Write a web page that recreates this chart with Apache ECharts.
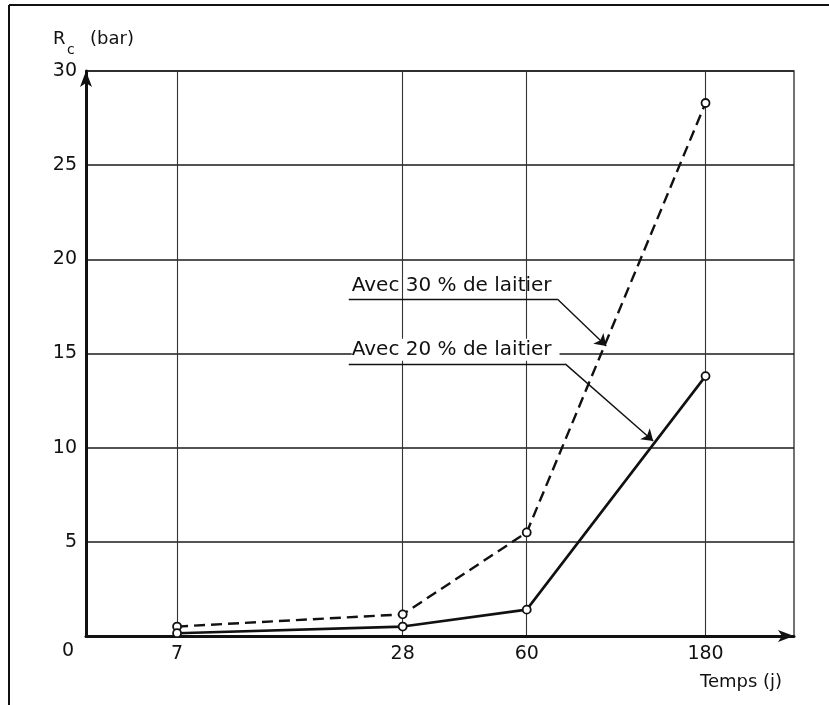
<!DOCTYPE html>
<html>
<head>
<meta charset="utf-8">
<script src="https://cdn.jsdelivr.net/npm/echarts@6/dist/echarts.min.js"></script>
<style>
  html, body { margin: 0; padding: 0; background: #fff; }
  #chart { width: 829px; height: 705px; }
</style>
</head>
<body>
<div id="chart"></div>
<script>
// Compressive strength (bar) versus curing time (days)
const days = [7, 28, 60, 180];
const rcSlag30 = [0.5, 1.15, 5.5, 28.3];
const rcSlag20 = [0.15, 0.5, 1.4, 13.8];
const seriesNames = ['Avec 30 % de laitier', 'Avec 20 % de laitier'];
const dayTicks = [7, 28, 60, 180];

const FONT = 'DejaVu Sans';
const INK = '#111';

// Callout leader geometry, in axis units (day, bar)
const callout30 = { start: [20.1, 17.9], bend: [72.4, 17.9], tip: [97.8, 15.4] };
const callout20 = { start: [20.1, 14.45], bend: [76.0, 14.45], tip: [130.5, 10.35] };

function callout(c, text, bg) {
  return {
    silent: true,
    animation: false,
    symbol: ['none', 'arrow'],
    symbolSize: 11,
    lineStyle: { color: INK, width: 1.4, type: 'solid' },
    label: { show: false },
    emphasis: { disabled: true },
    data: [
      [
        { coord: c.start, symbol: 'none',
          label: {
            show: true, formatter: text, position: 'insideStartTop', distance: 3,
            fontFamily: FONT, fontSize: 20, color: INK,
            backgroundColor: bg ? '#fff' : 'transparent', padding: bg ? [1, 8, 1, 0] : 0
          } },
        { coord: c.bend, symbol: 'none' }
      ],
      [
        { coord: c.bend, symbol: 'none' },
        { coord: c.tip, symbol: 'arrow' }
      ]
    ]
  };
}

const chart = echarts.init(document.getElementById('chart'), null, { renderer: 'canvas' });

chart.setOption({
  animation: false,
  backgroundColor: '#fff',
  grid: {
    left: 86, right: 35, top: 71, bottom: 69,
    show: true, borderColor: '#444', borderWidth: 1.5
  },
  xAxis: {
    type: 'log',
    logBase: 10,
    min: 4,
    max: 310,
    axisLine: {
      show: true, onZero: false,
      lineStyle: { color: INK, width: 3 },
      symbol: ['none', 'arrow'], symbolSize: [9, 16], symbolOffset: [0, 0]
    },
    axisTick: { show: false, customValues: dayTicks },
    axisLabel: {
      customValues: dayTicks,
      fontFamily: FONT, fontSize: 19, color: INK, margin: 9
    },
    splitLine: { show: true, lineStyle: { color: '#333', width: 1.1 } },
    minorTick: { show: false },
    minorSplitLine: { show: false }
  },
  yAxis: {
    type: 'value',
    min: 0,
    max: 30,
    interval: 5,
    axisLine: {
      show: true,
      lineStyle: { color: INK, width: 3 },
      symbol: ['none', 'arrow'], symbolSize: [9, 16], symbolOffset: [0, 0]
    },
    axisTick: { show: false },
    axisLabel: {
      fontFamily: FONT, fontSize: 19, color: INK, margin: 9,
      formatter: v => (v === 0 ? '' : String(v))
    },
    splitLine: { show: true, lineStyle: { color: '#1a1a1a', width: 1.6 } }
  },
  series: [
    {
      name: seriesNames[0],
      type: 'line',
      data: days.map((d, i) => [d, rcSlag30[i]]),
      symbol: 'circle',
      symbolSize: 8,
      itemStyle: { color: '#fff', borderColor: INK, borderWidth: 1.8 },
      lineStyle: { color: INK, width: 2.4, type: [11, 6] },
      z: 5,
      markLine: callout(callout30, seriesNames[0], false)
    },
    {
      name: seriesNames[1],
      type: 'line',
      data: days.map((d, i) => [d, rcSlag20[i]]),
      symbol: 'circle',
      symbolSize: 8,
      itemStyle: { color: '#fff', borderColor: INK, borderWidth: 1.8 },
      lineStyle: { color: INK, width: 2.6, type: 'solid' },
      z: 5,
      markLine: callout(callout20, seriesNames[1], true)
    }
  ],
  graphic: [
    // page frame (top and left edges)
    { type: 'line', shape: { x1: 9, y1: 5, x2: 829, y2: 5 }, style: { stroke: INK, lineWidth: 2 }, silent: true },
    { type: 'line', shape: { x1: 9, y1: 5, x2: 9, y2: 705 }, style: { stroke: INK, lineWidth: 2 }, silent: true },
    // axis titles
    { type: 'text', left: 53, top: 30, style: { text: 'R', font: '18px "DejaVu Sans"', fill: INK } },
    { type: 'text', left: 67, top: 43, style: { text: 'c', font: '14px "DejaVu Sans"', fill: INK } },
    { type: 'text', left: 90, top: 30, style: { text: '(bar)', font: '18px "DejaVu Sans"', fill: INK } },
    { type: 'text', left: 700, top: 673, style: { text: 'Temps (j)', font: '18px "DejaVu Sans"', fill: INK } },
    // shared origin label
    { type: 'text', left: 62, top: 642, style: { text: '0', font: '19px "DejaVu Sans"', fill: INK } }
  ]
});
</script>
</body>
</html>
